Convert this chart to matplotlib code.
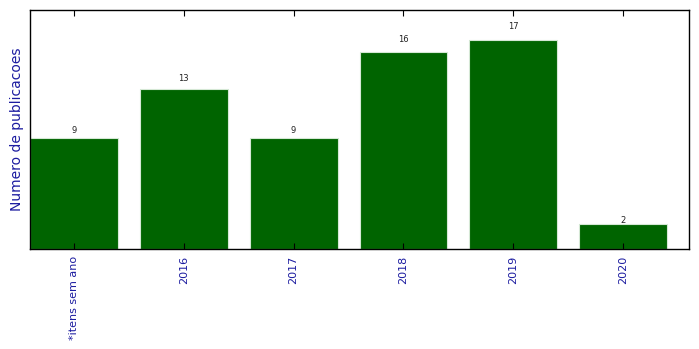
import matplotlib
matplotlib.use('Agg')
from matplotlib import pyplot as plt

categorias = ['*itens sem ano', '2016', '2017', '2018', '2019', '2020']
publicacoes = [9, 13, 9, 16, 17, 2]

fig = plt.figure(figsize=(6.99, 3.49), dpi=100)
ax = fig.add_axes([30 / 699, 100 / 349, 659 / 699, 239 / 349])

posicoes = list(range(len(categorias)))
barras = ax.bar(posicoes, publicacoes, width=0.8, color='#006400',
                edgecolor='#d5e8d5', linewidth=0.8)

# rotulo com o valor acima de cada barra
for barra in barras:
    altura = barra.get_height()
    ax.text(barra.get_x() + barra.get_width() / 2, 1.05 * altura + 0.2, '%d' % int(altura),
            ha='center', va='center', fontsize=6, color='#222222')

ax.set_xlim(-0.4, len(categorias) - 0.4)
ax.set_ylim(0, 19.4)
ax.set_xticks(posicoes)
ax.set_xticklabels(categorias, rotation=90, color='#1c1ca0', fontsize=8)
ax.set_yticks([])
ax.tick_params(axis='x', direction='in', top=True, bottom=True, length=4, width=0.8, pad=5)
ax.set_ylabel('Numero de publicacoes', color='#1c1ca0', fontsize=10)
for s in ax.spines.values():
    s.set_linewidth(1.0)

plt.savefig('out.png', dpi=100)
